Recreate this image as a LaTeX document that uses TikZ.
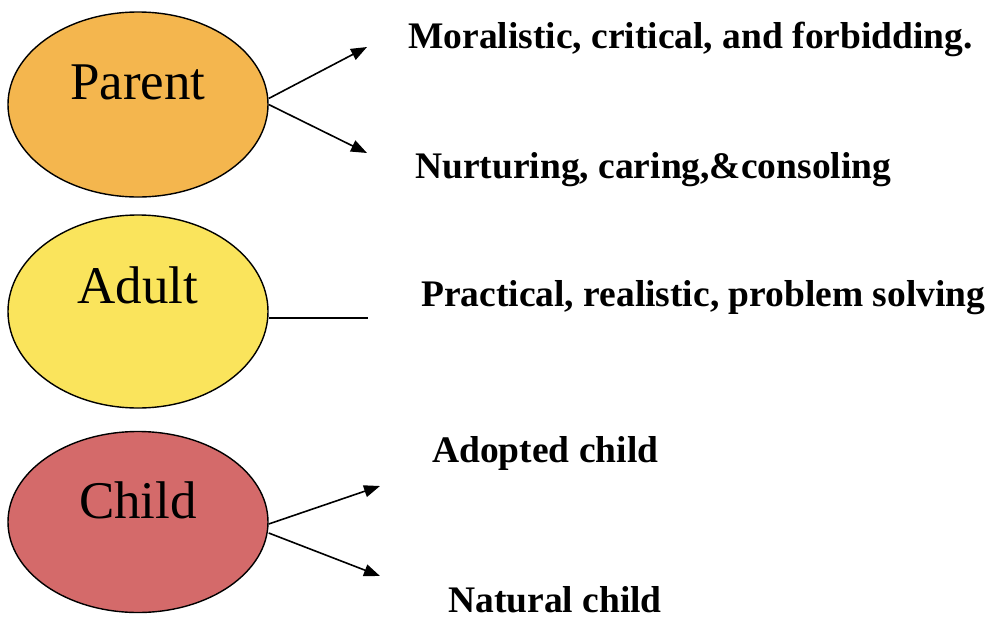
\documentclass[tikz,border=0pt]{standalone}
\usepackage{fontspec}
\setmainfont{Liberation Serif}
\usetikzlibrary{shapes.geometric,arrows.meta}
\definecolor{parentc}{RGB}{244,182,78}
\definecolor{adultc}{RGB}{250,228,92}
\definecolor{childc}{RGB}{212,106,106}
\tikzset{
  ell/.style={ellipse,draw=black,line width=1.4pt,inner sep=0pt,minimum width=260pt},
  lab/.style={anchor=base,font=\fontsize{53}{53}\selectfont},
  desc/.style={anchor=base west,inner sep=0pt,font=\fontsize{37.5}{37.5}\selectfont\bfseries},
  conn/.style={line width=1.6pt,-{Triangle[length=16pt,width=12pt]}},
  plain/.style={line width=1.3pt}
}
\begin{document}
\begin{tikzpicture}[x=1pt,y=-1pt]
\useasboundingbox (0,0) rectangle (991,619);
\node[ell,fill=parentc,minimum height=185pt] (P) at (138,104.5) {};
\node[ell,fill=adultc,minimum height=193pt] (A) at (138,311.5) {};
\node[ell,fill=childc,minimum height=181pt] (C) at (138,522) {};
\node[lab] (Pt) at (138,99) {Parent};
\node[lab] (At) at (138,303) {Adult};
\node[lab] (Ct) at (138,518) {Child};
\node[desc] (m) at (408,48) {Moralistic, critical, and forbidding.};
\node[desc] (n) at (415,178) {Nurturing, caring,\&consoling};
\node[desc] (p) at (421,306) {Practical, realistic, problem solving};
\node[desc] (ad) at (432,462) {Adopted child};
\node[desc] (na) at (448,612) {Natural child};
\coordinate (e1) at (367,47);
\coordinate (e2) at (367,153);
\coordinate (e3) at (368,318);
\coordinate (e4) at (380,486);
\coordinate (e5) at (380,576);
\draw[conn] ([yshift=6pt]P.east) -- (e1);
\draw[conn] (P.east) -- (e2);
\draw[plain] ([yshift=-6.5pt]A.east) -- (e3);
\draw[conn] ([yshift=-2pt]C.east) -- (e4);
\draw[conn] ([yshift=-11pt]C.east) -- (e5);
\end{tikzpicture}
\end{document}
